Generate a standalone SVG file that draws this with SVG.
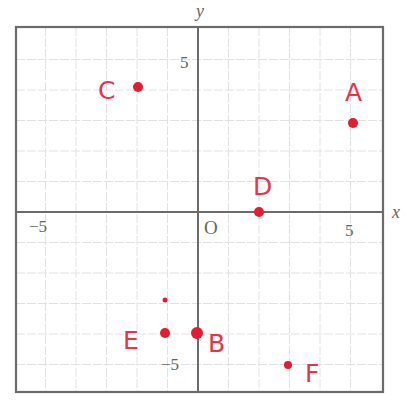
<svg xmlns="http://www.w3.org/2000/svg" width="416" height="401" viewBox="0 0 416 401">
<style>
.grid{stroke:#e2e2e2;stroke-width:1;stroke-dasharray:9 2}
.frame{fill:none;stroke:#6b6b6b;stroke-width:2.2}
.axis{stroke:#6b6b6b;stroke-width:2}
.tick{font-family:"Liberation Serif",serif;font-size:17px;fill:#666}
.axl{font-family:"Liberation Serif",serif;font-style:italic;font-size:18px;fill:#666}
.lbl{font-family:"DejaVu Sans","Liberation Sans",sans-serif;font-size:25px;fill:#e8344a}
.dot{fill:#e51c30}
</style>
<rect width="416" height="401" fill="#ffffff"/>
<g id="grid">
<line class="grid" x1="45.5" y1="27" x2="45.5" y2="392"/>
<line class="grid" x1="76" y1="27" x2="76" y2="392"/>
<line class="grid" x1="106.5" y1="27" x2="106.5" y2="392"/>
<line class="grid" x1="137" y1="27" x2="137" y2="392"/>
<line class="grid" x1="167.5" y1="27" x2="167.5" y2="392"/>
<line class="grid" x1="228.5" y1="27" x2="228.5" y2="392"/>
<line class="grid" x1="259" y1="27" x2="259" y2="392"/>
<line class="grid" x1="289.5" y1="27" x2="289.5" y2="392"/>
<line class="grid" x1="320" y1="27" x2="320" y2="392"/>
<line class="grid" x1="350.5" y1="27" x2="350.5" y2="392"/>
<line class="grid" x1="16" y1="59.5" x2="383" y2="59.5"/>
<line class="grid" x1="16" y1="90" x2="383" y2="90"/>
<line class="grid" x1="16" y1="120.5" x2="383" y2="120.5"/>
<line class="grid" x1="16" y1="151" x2="383" y2="151"/>
<line class="grid" x1="16" y1="181.5" x2="383" y2="181.5"/>
<line class="grid" x1="16" y1="242.5" x2="383" y2="242.5"/>
<line class="grid" x1="16" y1="273" x2="383" y2="273"/>
<line class="grid" x1="16" y1="303.5" x2="383" y2="303.5"/>
<line class="grid" x1="16" y1="334" x2="383" y2="334"/>
<line class="grid" x1="16" y1="364.5" x2="383" y2="364.5"/>
</g>
<g id="axes">
<rect class="frame" x="16" y="27" width="367" height="365"/>
<line class="axis" x1="198" y1="27" x2="198" y2="392"/>
<line class="axis" x1="16" y1="212" x2="383" y2="212"/>
<text class="axl" x="196" y="17">y</text>
<text class="axl" x="392" y="218">x</text>
<text class="tick" x="180" y="68">5</text>
<text class="tick" x="204" y="234" style="font-size:19px">O</text>
<text class="tick" x="345" y="236">5</text>
<text class="tick" x="29" y="232">−5</text>
<text class="tick" x="161" y="370">−5</text>
</g>
<g id="A"><circle class="dot" cx="353" cy="123" r="5"/><text class="lbl" x="345" y="101">A</text></g>
<g id="B"><circle class="dot" cx="197" cy="333" r="6"/><text class="lbl" x="208" y="352">B</text></g>
<g id="C"><circle class="dot" cx="138" cy="87" r="5"/><text class="lbl" x="98" y="99">C</text></g>
<g id="D"><circle class="dot" cx="259" cy="212" r="5"/><text class="lbl" x="253" y="195">D</text></g>
<g id="E"><circle class="dot" cx="165" cy="333" r="5"/><circle class="dot" cx="165" cy="300" r="2.5"/><text class="lbl" x="123" y="349">E</text></g>
<g id="F"><circle class="dot" cx="288" cy="365" r="4"/><text class="lbl" x="305" y="382">F</text></g>
</svg>
